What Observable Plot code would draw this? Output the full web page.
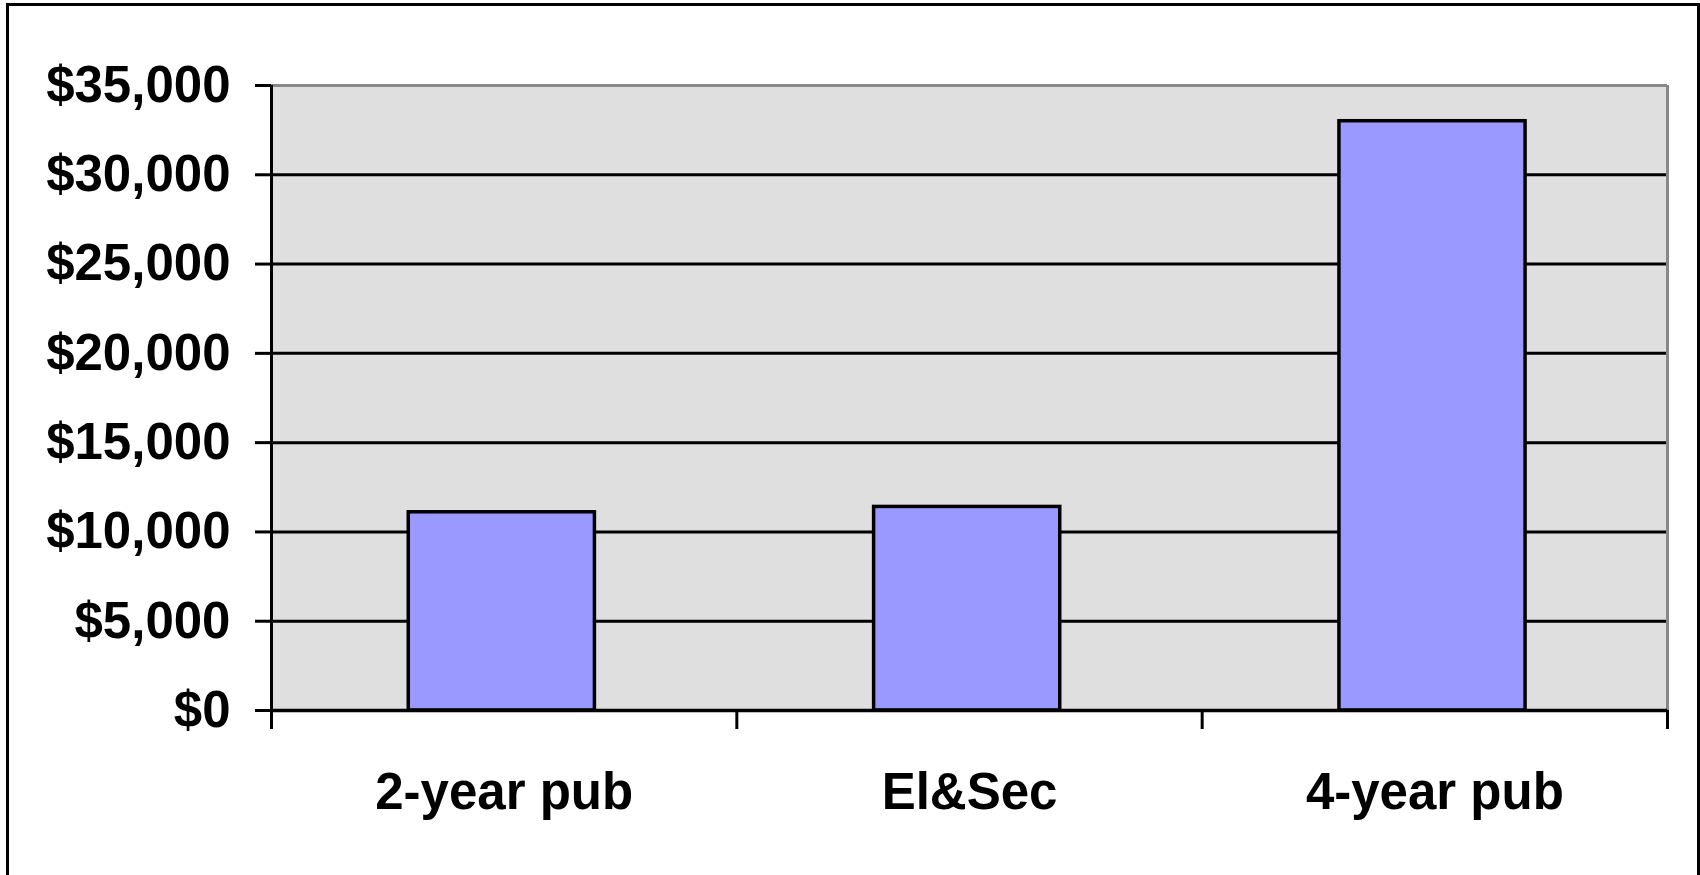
<!DOCTYPE html>
<html>
<head>
<meta charset="utf-8">
<script src="https://cdn.jsdelivr.net/npm/d3@7"></script>
<script src="https://cdn.jsdelivr.net/npm/@observablehq/plot@0.6"></script>
<style>
  html, body { margin: 0; padding: 0; background: #fff; overflow: hidden; }
  #wrap { position: relative; width: 1700px; height: 875px; }
  #border { position: absolute; left: 6px; top: 3px; width: 1694px; height: 900px; box-sizing: border-box; border: 3px solid #000; pointer-events: none; }
</style>
</head>
<body>
<div id="wrap"><div id="chart"></div><div id="border"></div></div>
<script>
const categories = ["2-year pub", "El&Sec", "4-year pub"];
const values = [11100, 11400, 33000];
const yTicks = [0, 5000, 10000, 15000, 20000, 25000, 30000, 35000];
const boundaries = [0, 1, 2, 3];
const centers = [0.5, 1.5, 2.5];

const data = categories.map((c, i) => ({category: c, index: i, value: values[i]}));
const fmt = d3.format(",");

const chart = Plot.plot({
  width: 1700,
  height: 875,
  marginLeft: 271,
  marginRight: 33,
  marginTop: 85,
  marginBottom: 165,
  x: {domain: [0, 3], label: null},
  y: {domain: [0, 35000], label: null},
  style: {
    fontFamily: "'Liberation Sans', Arial, sans-serif",
    fontWeight: "bold",
    fontSize: "51px",
    color: "#000",
    background: "transparent"
  },
  marks: [
    Plot.frame({fill: "#dfdfdf", stroke: null}),
    Plot.ruleY(yTicks.filter(d => d > 0 && d < 35000), {stroke: "#000", strokeWidth: 3}),
    Plot.rectY(data, {
      x1: d => d.index + 0.295,
      x2: d => d.index + 0.695,
      y: "value",
      fill: "#9999ff",
      stroke: "#000",
      strokeWidth: 3.5
    }),
    Plot.ruleY([35000], {stroke: "#888", strokeWidth: 3}),
    Plot.ruleX([3], {stroke: "#888", strokeWidth: 3}),
    Plot.ruleX([0], {stroke: "#000", strokeWidth: 3}),
    Plot.ruleY([0], {stroke: "#000", strokeWidth: 3.5}),
    Plot.axisY({
      ticks: yTicks,
      tickSize: 16,
      tickPadding: 25,
      strokeWidth: 3,
      tickFormat: d => "$" + fmt(d),
      fontSize: 51,
      fontWeight: "bold",
      label: null
    }),
    Plot.axisX({
      ticks: boundaries,
      tickSize: 19,
      strokeWidth: 3,
      tickFormat: () => "",
      label: null
    }),
    Plot.axisX({
      ticks: centers,
      tickSize: 0,
      tickPadding: 62,
      tickFormat: d => categories[Math.floor(d)],
      fontSize: 51,
      fontWeight: "bold",
      label: null
    })
  ]
});
document.getElementById("chart").appendChild(chart);
</script>
</body>
</html>
